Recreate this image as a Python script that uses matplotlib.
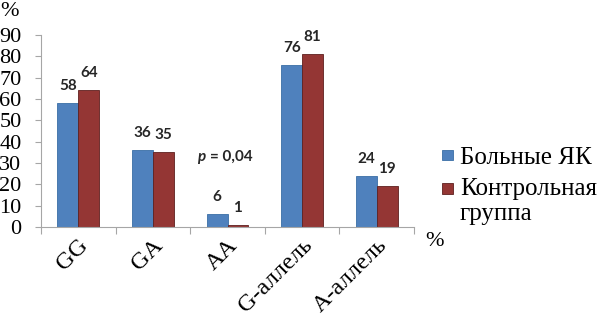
import matplotlib
matplotlib.use("Agg")
import matplotlib.pyplot as plt
from matplotlib.patches import Rectangle
from matplotlib.legend_handler import HandlerPatch
import numpy as np

categories = ["GG", "GA", "AA", "G-аллель", "A-аллель"]
patients = [58, 36, 6, 76, 24]
controls = [64, 35, 1, 81, 19]
series_names = ["Больные ЯК", "Контрольная\nгруппа"]
yticks = [0, 10, 20, 30, 40, 50, 60, 70, 80, 90]
p_value = "= 0,04"

blue = "#4F81BD"
red = "#943634"
axis_col = "#A6A6A6"
serif = ["Liberation Serif", "DejaVu Serif"]
boldfont = ["Lato", "DejaVu Sans"]

plt.rcParams["font.family"] = serif

fig = plt.figure(figsize=(6.02, 3.21), dpi=100)
ax = fig.add_axes([41/602, 1-227/321, (414-41)/602, (227-35)/321])

x = np.arange(len(categories))
w = 0.28
b1 = ax.bar(x - w/2, patients, w, color=blue, edgecolor="#3A6EA5", linewidth=0.6, label=series_names[0])
b2 = ax.bar(x + w/2, controls, w, color=red, edgecolor="#5E1F1E", linewidth=0.6, label=series_names[1])

for bars, vals in ((b1, patients), (b2, controls)):
    for r, v in zip(bars, vals):
        ax.annotate(str(v), (r.get_x() + r.get_width()/2, v), xytext=(0, 9.5),
                    textcoords="offset points", ha="center", va="baseline",
                    fontsize=11, fontweight="bold", family=boldfont, color="#262626")

ax.annotate("p", (2, 31), xytext=(-16, 0), textcoords="offset points", ha="right", va="baseline",
            fontsize=11, fontweight="bold", fontstyle="italic", family=boldfont, color="#262626")
ax.annotate(p_value, (2, 31), xytext=(-12.5, 0), textcoords="offset points", ha="left", va="baseline",
            fontsize=11, fontweight="bold", family=boldfont, color="#262626")

ax.set_xlim(-0.5, len(categories) - 0.5)
ax.set_ylim(0, 90)
ax.set_yticks(yticks)
ax.set_yticklabels([str(t) for t in yticks])
for t in ax.get_yticklabels():
    t.set_family(serif)
    t.set_fontsize(16)
ax.tick_params(axis="y", length=4, width=0.8, color=axis_col, pad=10, direction="out")

ax.set_xticks(np.arange(len(categories) + 1) - 0.5)
ax.set_xticklabels([])
ax.tick_params(axis="x", length=5, width=0.8, color=axis_col, direction="out")
for i, c in enumerate(categories):
    ax.annotate(c, (i, 0), xytext=(5, -11), textcoords="offset points",
                rotation=45, rotation_mode="anchor", ha="right", va="center",
                family=serif, fontsize=17.5, color="black", annotation_clip=False)

for s in ("top", "right"):
    ax.spines[s].set_visible(False)
for s in ("left", "bottom"):
    ax.spines[s].set_color(axis_col)
    ax.spines[s].set_linewidth(0.8)

fig.text(0, 1 - 11/321, "%", family=serif, fontsize=16, va="center", ha="left")
fig.text(425/602, 1 - 242/321, "%", family=serif, fontsize=16, va="center", ha="left")


def square(dy):
    def make(legend, orig_handle, xdescent, ydescent, width, height, fontsize):
        s = min(width, height)
        return Rectangle((-xdescent + (width - s) / 2, -ydescent + (height - s) / 2 + dy), s, s)
    return HandlerPatch(patch_func=make)


h1, h2 = b1.patches[0], b2.patches[0]
leg = fig.legend(handles=[h1, h2], labels=series_names, loc="upper left",
                 bbox_to_anchor=(442/602, 1 - 147/321), frameon=False,
                 prop={"family": serif, "size": 18}, handlelength=0.42, handleheight=0.42,
                 handletextpad=0.3, labelspacing=0.35, borderpad=0, borderaxespad=0,
                 handler_map={h1: square(0), h2: square(9)})

fig.savefig("out.png", dpi=100)
